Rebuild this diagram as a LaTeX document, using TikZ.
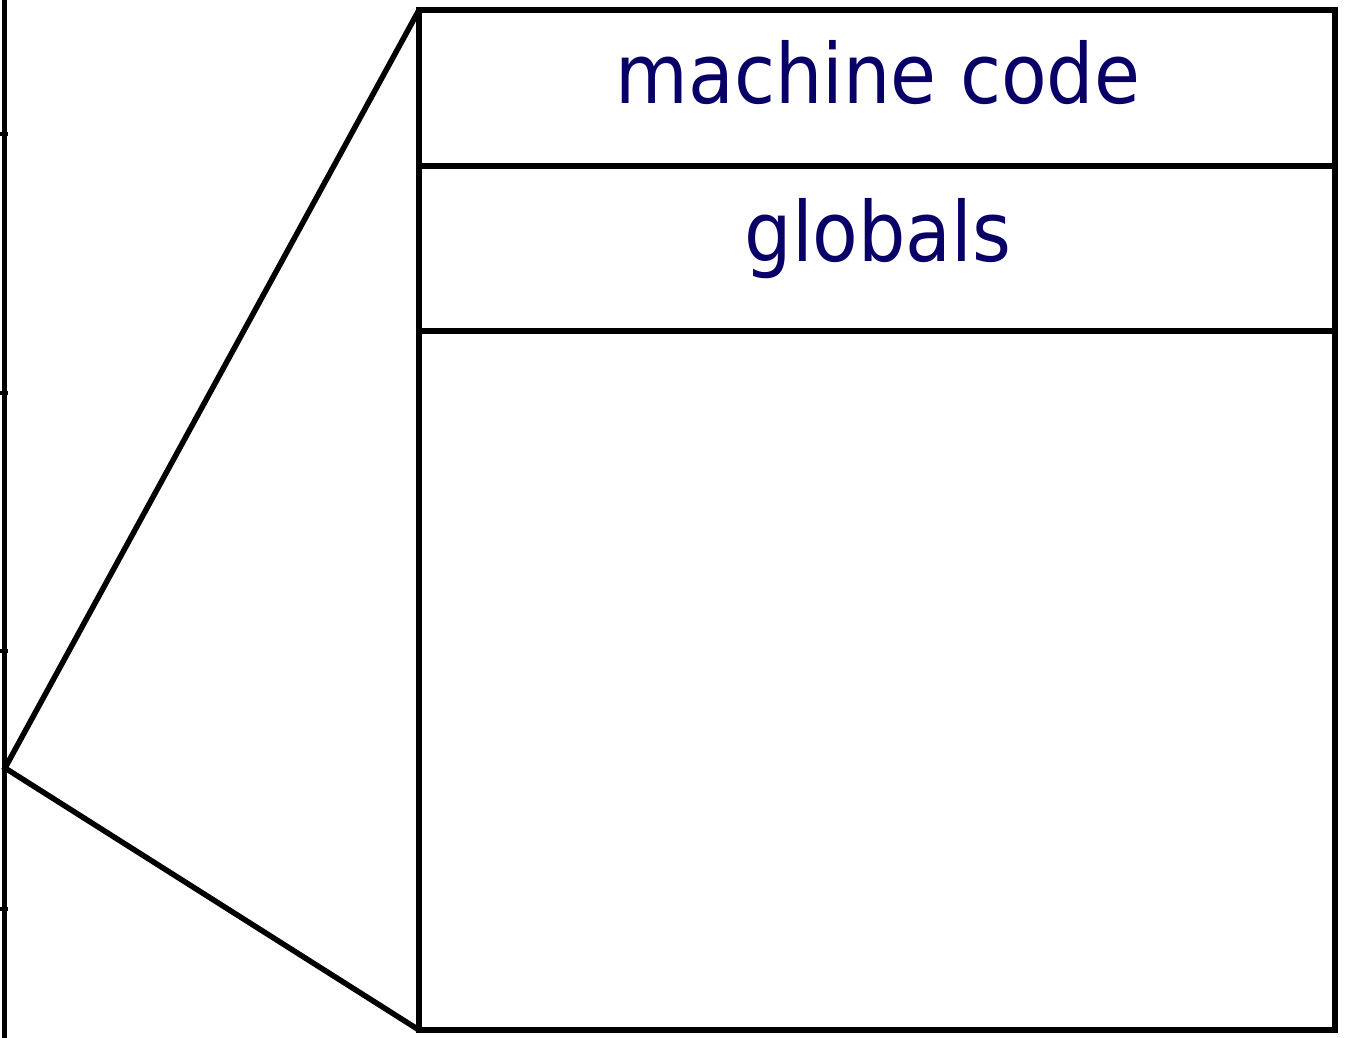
\documentclass[tikz,border=0pt]{standalone}
\usepackage{fontspec}
\setmainfont{DejaVu Sans Condensed}
\usepackage{tikz}
\definecolor{labelnavy}{RGB}{8,0,102}
\tikzset{memline/.style={line width=5.5pt,black},
         memlabel/.style={anchor=base,text=labelnavy,inner sep=0pt,font=\fontsize{83}{90}\selectfont}}

\begin{document}
\begin{tikzpicture}[x=1pt,y=-1pt]
  \useasboundingbox (0,0) rectangle (1345,1038);

  \coordinate (apex) at (5,768);
  \coordinate (tl)   at (419,10);
  \coordinate (tr)   at (1335,10);
  \coordinate (bl)   at (419,1030);
  \coordinate (br)   at (1335,1030);
  \coordinate (c1l)  at (419,166);
  \coordinate (c1r)  at (1335,166);
  \coordinate (c2l)  at (419,331);
  \coordinate (c2r)  at (1335,331);

  % address axis
  \draw [memline] (4.5,0) -- (4.5,1038);
  \foreach \y in {134,393,651,909}
    \draw [line width=4pt] (0,\y) -- (8,\y);

  % zoomed segment
  \draw [memline,line join=miter] (tl) -- (apex) -- (bl);
  \draw [memline] (tl) rectangle (br);
  \draw [memline] (c1l) -- (c1r);
  \draw [memline] (c2l) -- (c2r);

  \node [memlabel] (code)    at (878,104) {machine code};
  \node [memlabel] (globals) at (878,261) {globals};
\end{tikzpicture}
\end{document}
